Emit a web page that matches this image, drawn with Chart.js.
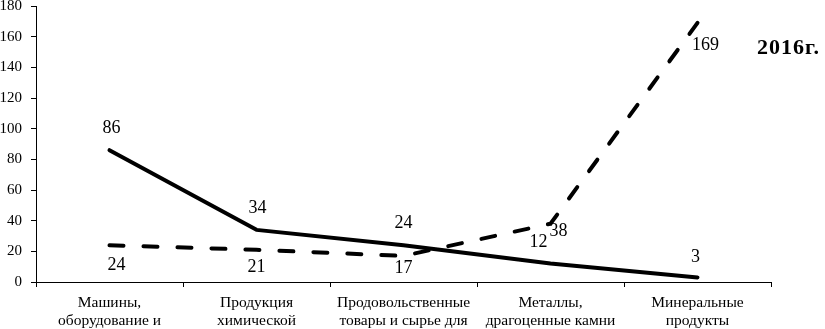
<!DOCTYPE html>
<html>
<head>
<meta charset="utf-8">
<script src="https://cdn.jsdelivr.net/npm/chart.js@4/dist/chart.umd.min.js"></script>
<style>
html,body{margin:0;padding:0;background:#fff;}
#wrap{width:825px;height:329px;position:relative;}
</style>
</head>
<body>
<div id="wrap"><canvas id="c" width="825" height="329"></canvas></div>
<script>
const categories = [
  ["Машины,", "оборудование и"],
  ["Продукция", "химической"],
  ["Продовольственные", "товары и сырье для"],
  ["Металлы,", "драгоценные камни"],
  ["Минеральные", "продукты"]
];
const seriesSolid = [86, 34, 24, 12, 3];
const seriesDashed = [24, 21, 17, 38, 169];
const yTicks = [0, 20, 40, 60, 80, 100, 120, 140, 160, 180];
const yearLabel = "2016г.";

// label offsets (style): [dx, dy] per point
const solidOffsets = [[2,-22],[1,-22],[0,-22],[-12,-21],[-2,-20]];
const dashedOffsets = [[7,20],[0,17],[0,12],[8,8],[8,22]];

const FONT = '"Liberation Serif", "Times New Roman", serif';

const labelPlugin = {
  id: 'pointLabels',
  afterDatasetsDraw(chart) {
    const ctx = chart.ctx;
    ctx.save();
    ctx.fillStyle = '#000';
    ctx.font = '18px ' + FONT;
    ctx.textAlign = 'center';
    ctx.textBaseline = 'middle';
    const offs = [solidOffsets, dashedOffsets];
    chart.data.datasets.forEach((ds, di) => {
      const meta = chart.getDatasetMeta(di);
      meta.data.forEach((pt, i) => {
        const o = offs[di][i];
        ctx.fillText(String(ds.data[i]), pt.x + o[0], pt.y + o[1]);
      });
    });
    ctx.font = 'bold 22px ' + FONT;
    ctx.textAlign = 'left';
    try { ctx.letterSpacing = '1px'; } catch (e) {}
    ctx.fillText(yearLabel, 757, 48);
    ctx.restore();
  }
};

new Chart(document.getElementById('c'), {
  type: 'line',
  data: {
    labels: categories,
    datasets: [
      {
        data: seriesSolid,
        borderColor: '#000',
        borderWidth: 4,
        pointRadius: 0,
        tension: 0,
        borderCapStyle: 'round',
        borderJoinStyle: 'round'
      },
      {
        data: seriesDashed,
        borderColor: '#000',
        borderWidth: 4,
        borderDash: [14, 20],
        borderCapStyle: 'round',
        pointRadius: 0,
        tension: 0
      }
    ]
  },
  options: {
    responsive: false,
    animation: false,
    devicePixelRatio: 1,
    layout: { padding: { left: 0, right: 54, top: 6, bottom: 0 } },
    plugins: { legend: { display: false }, tooltip: { enabled: false } },
    scales: {
      x: {
        offset: true,
        grid: { offset: true, drawOnChartArea: false, drawTicks: true, tickLength: 5, color: '#000', lineWidth: 1 },
        border: { color: '#000', width: 1 },
        ticks: {
          color: '#000',
          font: { family: FONT, size: 15.5, lineHeight: 1.16 },
          maxRotation: 0,
          autoSkip: false,
          padding: 7
        },
        afterFit(s) { s.height = 47; s.paddingLeft = 0; s.paddingRight = 0; }
      },
      y: {
        min: 0,
        max: 180,
        afterBuildTicks(s) { s.ticks = yTicks.map(v => ({ value: v })); },
        grid: { drawOnChartArea: false, drawTicks: true, tickLength: 5, color: '#000' },
        border: { color: '#000', width: 1 },
        ticks: {
          color: '#000',
          font: { family: FONT, size: 15 },
          padding: 9
        },
        afterFit(s) { s.width = 36; s.paddingTop = 0; s.paddingBottom = 0; }
      }
    }
  },
  plugins: [labelPlugin]
});
</script>
</body>
</html>
